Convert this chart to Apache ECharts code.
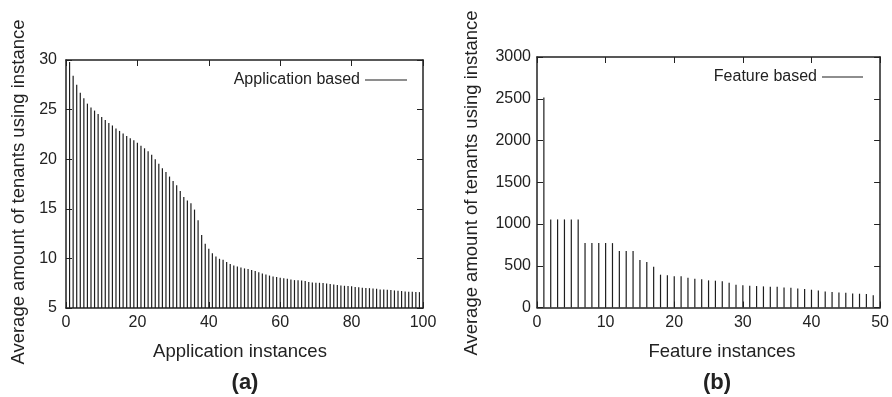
<!DOCTYPE html>
<html>
<head>
<meta charset="utf-8">
<script src="https://cdn.jsdelivr.net/npm/echarts@6/dist/echarts.min.js"></script>
<style>
  html, body { margin: 0; padding: 0; background: #fff; }
  #chart { width: 892px; height: 397px; }
</style>
</head>
<body>
<div id="chart"></div>
<script>
// (a) average tenants per application instance, instances 1..99
const appValues = [
  29.8, 28.4, 27.5, 26.7, 26.15, 25.6, 25.2, 24.9, 24.55, 24.25,
  23.95, 23.65, 23.4, 23.1, 22.85, 22.6, 22.35, 22.1, 21.9, 21.65,
  21.35, 21.1, 20.8, 20.45, 20.0, 19.55, 19.1, 18.7, 18.25, 17.8,
  17.37, 16.8, 16.2, 15.83, 15.56, 14.92, 13.85, 12.35, 11.47, 10.97,
  10.53, 10.19, 9.96, 9.86, 9.63, 9.43, 9.29, 9.19, 9.09, 8.99,
  8.92, 8.82, 8.72, 8.6, 8.48, 8.37, 8.27, 8.18, 8.12, 8.06,
  8.0, 7.96, 7.88, 7.81, 7.8, 7.78, 7.71, 7.61, 7.58, 7.55,
  7.54, 7.51, 7.48, 7.41, 7.38, 7.31, 7.28, 7.24, 7.21, 7.18,
  7.11, 7.08, 7.04, 7.01, 7.0, 6.97, 6.94, 6.87, 6.86, 6.84,
  6.81, 6.77, 6.74, 6.71, 6.67, 6.64, 6.63, 6.61, 6.6
]
// (b) average tenants per feature instance, instances 1..49
const featureValues = [
  2515, 1055, 1055, 1055, 1055, 1055, 771, 771, 771, 771,
  771, 676, 676, 676, 568, 544, 488, 393, 385, 373,
  373, 357, 345, 337, 325, 321, 313, 297, 273, 265,
  261, 257, 253, 249, 249, 241, 237, 229, 221, 213,
  205, 193, 185, 181, 177, 169, 165, 161, 146
]
const appTicks = [0, 100, 20]
const appYTicks = [5, 30, 5]
const featTicks = [0, 50, 10]
const featYTicks = [0, 3000, 500]

const FONT = 'Liberation Sans'
const INK = '#222'

function axisPair (ticks, showLabel, margin) {
  return {
    type: 'value',
    min: ticks[0],
    max: ticks[1],
    interval: ticks[2],
    splitLine: {show: false},
    axisLine: {show: true, onZero: false, lineStyle: {color: INK, width: 1.5}},
    axisTick: {show: true, inside: true, length: 6, lineStyle: {color: INK, width: 1}},
    axisLabel: {
      show: showLabel, color: INK, fontSize: 16, fontFamily: FONT, margin: margin,
      formatter: v => String(v)
    }
  }
}

const dom = document.getElementById('chart')
const chart = echarts.init(dom, null, {renderer: 'canvas'})

const nameFont = '18.5px "Liberation Sans"'

const option = {
  animation: false,
  backgroundColor: '#fff',
  textStyle: {fontFamily: FONT},
  grid: [
    {left: 66, top: 60, width: 357, height: 248},
    {left: 537, top: 57, width: 344, height: 250.5}
  ],
  xAxis: [
    Object.assign(axisPair(appTicks, true, 7), {gridIndex: 0, position: 'bottom'}),
    Object.assign(axisPair(appTicks, false, 7), {gridIndex: 0, position: 'top'}),
    Object.assign(axisPair(featTicks, true, 7), {gridIndex: 1, position: 'bottom'}),
    Object.assign(axisPair(featTicks, false, 7), {gridIndex: 1, position: 'top'})
  ],
  yAxis: [
    Object.assign(axisPair(appYTicks, true, 9), {gridIndex: 0, position: 'left'}),
    Object.assign(axisPair(appYTicks, false, 9), {gridIndex: 0, position: 'right'}),
    Object.assign(axisPair(featYTicks, true, 6), {gridIndex: 1, position: 'left'}),
    Object.assign(axisPair(featYTicks, false, 6), {gridIndex: 1, position: 'right'})
  ],
  legend: [
    {
      data: ['Application based'],
      right: 485, top: 72, padding: 0, align: 'right',
      icon: 'rect', itemWidth: 42, itemHeight: 1.2,
      textStyle: {color: INK, fontSize: 16, fontFamily: FONT}
    },
    {
      data: ['Feature based'],
      right: 29, top: 69, padding: 0, align: 'right',
      icon: 'rect', itemWidth: 41, itemHeight: 1.2,
      textStyle: {color: INK, fontSize: 16, fontFamily: FONT}
    }
  ],
  series: [
    {
      name: 'Application based',
      type: 'bar',
      xAxisIndex: 0,
      yAxisIndex: 0,
      barWidth: 1.2,
      itemStyle: {color: '#1e1e1e'},
      data: appValues.map((v, i) => [i + 1, v])
    },
    {
      name: 'Feature based',
      type: 'bar',
      xAxisIndex: 2,
      yAxisIndex: 2,
      barWidth: 1.2,
      itemStyle: {color: '#1e1e1e'},
      data: featureValues.map((v, i) => [i + 1, v])
    }
  ],
  graphic: [
    {type: 'text', x: 19, y: 192, rotation: Math.PI / 2,
      style: {text: 'Average amount of tenants using instance', fill: INK, font: nameFont, align: 'center', verticalAlign: 'middle'}},
    {type: 'text', x: 472, y: 183, rotation: Math.PI / 2,
      style: {text: 'Average amount of tenants using instance', fill: INK, font: nameFont, align: 'center', verticalAlign: 'middle'}},
    {type: 'text', x: 240, y: 352,
      style: {text: 'Application instances', fill: INK, font: nameFont, align: 'center', verticalAlign: 'middle'}},
    {type: 'text', x: 722, y: 352,
      style: {text: 'Feature instances', fill: INK, font: nameFont, align: 'center', verticalAlign: 'middle'}},
    {type: 'text', x: 245, y: 383,
      style: {text: '(a)', fill: INK, font: 'bold 22px "Liberation Sans"', align: 'center', verticalAlign: 'middle'}},
    {type: 'text', x: 717, y: 383,
      style: {text: '(b)', fill: INK, font: 'bold 22px "Liberation Sans"', align: 'center', verticalAlign: 'middle'}}
  ]
}

chart.setOption(option)
window.addEventListener('resize', () => chart.resize())
</script>
</body>
</html>
